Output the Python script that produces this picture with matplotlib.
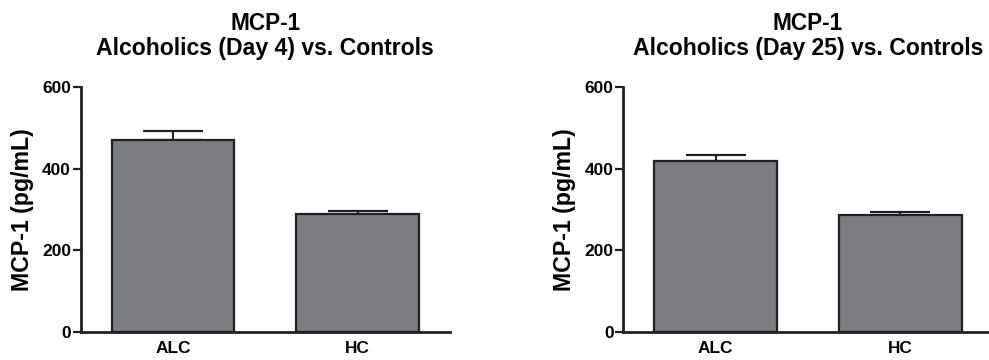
import matplotlib
matplotlib.use("Agg")
import matplotlib.pyplot as plt

plt.rcParams['font.family'] = ['Liberation Sans', 'DejaVu Sans']
plt.rcParams['font.weight'] = 'bold'

categories = ["ALC", "HC"]
day4_means = [469, 288]
day4_sem = [23, 8]
day25_means = [418, 287]
day25_sem = [15, 8]
titles = ["Alcoholics (Day 4) vs. Controls", "Alcoholics (Day 25) vs. Controls"]
yticks = [0, 200, 400, 600]

W, H = 989, 360
fig = plt.figure(figsize=(W / 100, H / 100), dpi=100)

bar_color = "#7c7d81"
edge_color = "#231f20"

panels = [
    (80.7, day4_means, day4_sem, titles[0]),
    (623.3, day25_means, day25_sem, titles[1]),
]
ax_w = 369.3
ax_bottom, ax_top = 332, 87

for x0, means, sems, title in panels:
    ax = fig.add_axes([x0 / W, 1 - ax_bottom / H, ax_w / W, (ax_bottom - ax_top) / H])
    xs = list(range(len(categories)))
    ax.bar(xs, means, width=0.665, color=bar_color, edgecolor=edge_color,
           linewidth=1.6, zorder=2)
    ax.errorbar(xs, means, yerr=[[0] * len(sems), sems], fmt='none',
                ecolor=edge_color, elinewidth=1.5, capsize=21.5, capthick=1.6, zorder=1)
    ax.set_xlim(-0.5, 1.5)
    ax.set_ylim(0, 600)
    ax.set_yticks(yticks)
    ax.set_yticklabels([str(t) for t in yticks], fontsize=12.5, fontweight='bold')
    ax.set_xticks(xs)
    ax.set_xticklabels(categories, fontsize=12.4, fontweight='bold')
    ax.tick_params(axis='x', length=0, pad=6.5)
    ax.tick_params(axis='y', length=5.5, width=1.6, pad=1.5, color=edge_color)
    for s in ['top', 'right']:
        ax.spines[s].set_visible(False)
    for s in ['left', 'bottom']:
        ax.spines[s].set_linewidth(2.0)
        ax.spines[s].set_color(edge_color)
    ax.set_ylabel("MCP-1 (pg/mL)", fontsize=16.7, fontweight='bold', labelpad=6)
    cx = (x0 + ax_w / 2) / W
    fig.text(cx, 1 - 29.6 / H, "MCP-1", ha='center', va='baseline',
             fontsize=16.3, fontweight='bold')
    fig.text(cx, 1 - 55.0 / H, title, ha='center', va='baseline',
             fontsize=16.6, fontweight='bold')

fig.savefig("out.png", dpi=100)
